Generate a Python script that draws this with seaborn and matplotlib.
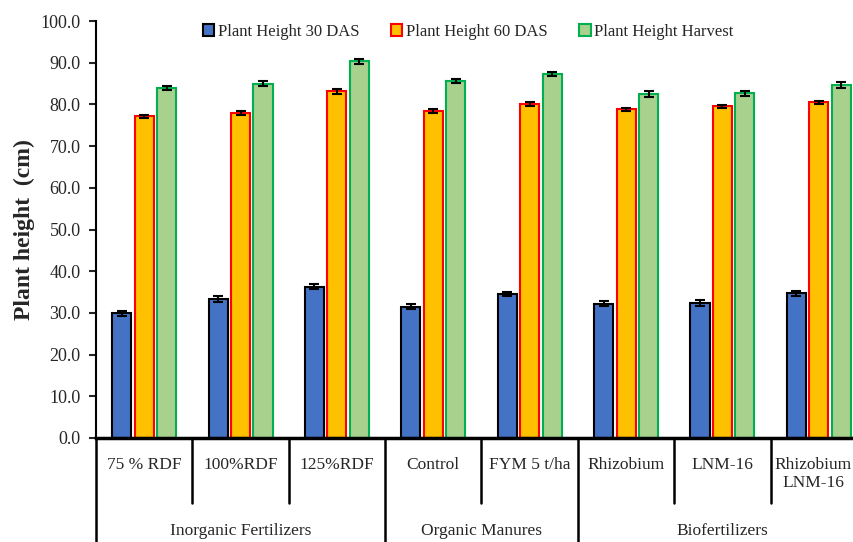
import pandas as pd
import matplotlib
matplotlib.use("Agg")
import matplotlib.pyplot as plt
import seaborn as sns

treatments = ["75 % RDF", "100%RDF", "125%RDF", "Control", "FYM 5 t/ha",
              "Rhizobium", "LNM-16", "Rhizobium\nLNM-16"]
groups = ["Inorganic Fertilizers", "Organic Manures", "Biofertilizers"]
group_sizes = [3, 2, 3]
series = ["Plant Height 30 DAS", "Plant Height 60 DAS", "Plant Height Harvest"]

h30 = [29.9, 33.3, 36.3, 31.5, 34.6, 32.2, 32.3, 34.7]
h60 = [77.1, 77.9, 83.1, 78.4, 80.1, 78.8, 79.5, 80.5]
hharvest = [83.9, 85.0, 90.4, 85.7, 87.3, 82.5, 82.7, 84.6]
err30 = [0.6, 0.7, 0.6, 0.6, 0.5, 0.6, 0.7, 0.6]
err60 = [0.4, 0.4, 0.5, 0.4, 0.4, 0.4, 0.3, 0.4]
errharvest = [0.5, 0.7, 0.6, 0.5, 0.4, 0.7, 0.6, 0.7]

fills = ["#4472c4", "#ffc000", "#a9d18e"]
edges = ["black", "red", "#00b050"]


def main():
    sns.set_style("white")
    plt.rcParams["font.family"] = ["Liberation Serif", "DejaVu Serif"]

    df = pd.DataFrame({
        "treatment": treatments * 3,
        "series": [s for s in series for _ in treatments],
        "height": h30 + h60 + hharvest,
        "err": err30 + err60 + errharvest,
    })

    fig = plt.figure(figsize=(8.54, 5.42), dpi=100)
    ax = fig.add_axes([96 / 854, 104 / 542, 771 / 854, 417 / 542])

    sns.barplot(data=df, x="treatment", y="height", hue="series",
                hue_order=series, order=treatments, palette=fills,
                width=0.7, gap=0.15, errorbar=None, legend=False, ax=ax,
                saturation=1)

    for cont, ec, s in zip(ax.containers, edges, series):
        errs = df.loc[df["series"] == s, "err"].values
        xs, ys = [], []
        for bar in cont:
            bar.set_edgecolor(ec)
            bar.set_linewidth(1.5)
            xs.append(bar.get_x() + bar.get_width() / 2)
            ys.append(bar.get_height())
        ax.errorbar(xs, ys, yerr=errs, fmt="none", ecolor="black",
                    elinewidth=1.5, capsize=3.5, capthick=1.5, zorder=5)

    ax.set_xlim(-0.5, 7.5)
    ax.set_ylim(0, 100)
    ax.set_yticks(range(0, 101, 10))
    ax.set_yticklabels([f"{v:.1f}" for v in range(0, 101, 10)], fontsize=13,
                       color="#262626")
    ax.set_xticks([])
    ax.tick_params(axis="y", direction="out", length=5, width=1.5, left=True,
                   pad=6)
    ax.set_xlabel("")
    ax.set_ylabel("Plant height  (cm)", fontsize=17, fontweight="bold",
                  labelpad=4)

    sns.despine(ax=ax)
    ax.spines["left"].set_linewidth(1.5)
    ax.spines["bottom"].set_linewidth(2.5)
    for sp in ["left", "bottom"]:
        ax.spines[sp].set_color("black")

    trans = ax.get_xaxis_transform()

    # treatment labels below the axis
    for i, t in enumerate(treatments):
        shift = -0.06 if i == len(treatments) - 1 else 0
        ax.text(i + shift, -0.045, t, transform=trans, ha="center", va="top",
                fontsize=12.5, linespacing=1.2)

    # separators under the axis
    bounds = [-0.5]
    pos = -0.5
    for n in group_sizes:
        pos += n
        bounds.append(pos)
    for b in [i - 0.5 for i in range(len(treatments) + 1)]:
        low = -0.26 if b in bounds else -0.157
        ax.plot([b, b], [0, low], transform=trans, color="black",
                lw=1.8, clip_on=False)

    start = -0.5
    for g, n in zip(groups, group_sizes):
        ax.text(start + n / 2, -0.222, g, transform=trans, ha="center",
                va="center", fontsize=12.5)
        start += n

    fig.legend(ax.containers, series, loc="center",
               bbox_to_anchor=(468 / 854, 1 - 32 / 542), ncol=3,
               frameon=False, fontsize=12, handlelength=0.7,
               handleheight=0.7, handletextpad=0.2, columnspacing=1.9)

    fig.savefig("out.png", dpi=100)


if __name__ == "__main__":
    main()
